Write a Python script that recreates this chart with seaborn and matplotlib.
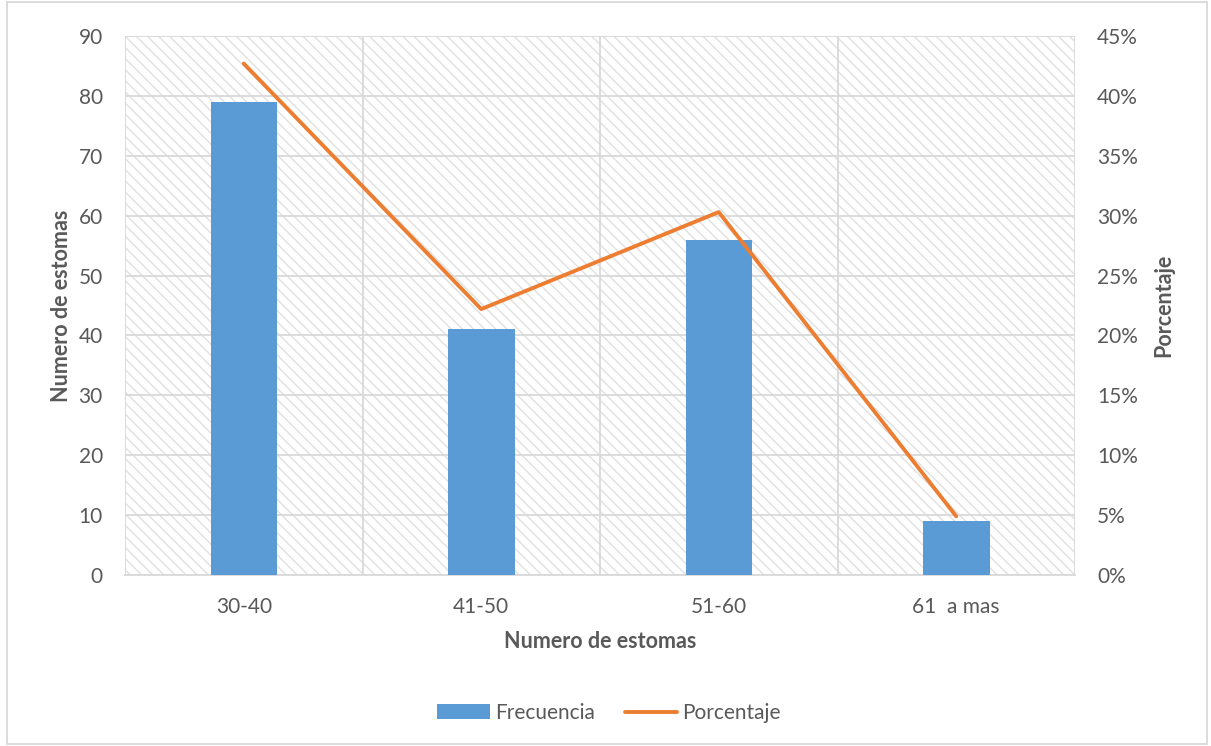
import matplotlib
matplotlib.use("Agg")
import matplotlib.pyplot as plt
import seaborn as sns
import pandas as pd
from matplotlib.patches import Rectangle, Patch
from matplotlib.lines import Line2D
from matplotlib.ticker import FuncFormatter, FixedLocator

# Data
categories = ["30-40", "41-50", "51-60", "61  a mas"]
frecuencia = [79, 41, 56, 9]
porcentaje = [42.7, 22.2, 30.3, 4.9]

sns.set_style("white")
plt.rcParams["font.family"] = ["Lato", "DejaVu Sans"]
plt.rcParams["hatch.color"] = "#e0e0e0"
plt.rcParams["hatch.linewidth"] = 1.0

txt = "#595959"
grid_c = "#d9d9d9"
fs = 15

df = pd.DataFrame({"cat": categories, "freq": frecuencia, "pct": porcentaje})

fig = plt.figure(figsize=(12.11, 7.46), dpi=100)
ax = fig.add_axes([125 / 1211, 1 - 575 / 746, 950 / 1211, 539 / 746])

# hatched plot area
ax.patch.set_facecolor("white")
ax.patch.set_edgecolor("#e0e0e0")
ax.patch.set_hatch("\\" * 3)
ax.patch.set_linewidth(0)

sns.barplot(data=df, x="cat", y="freq", color="#5B9BD5", width=0.28,
            saturation=1, linewidth=0, ax=ax, zorder=3)
ax.set_xlim(-0.5, 3.5)
ax.set_ylim(0, 90)
ax.set_yticks(range(0, 91, 10))
ax.set_axisbelow(True)
ax.yaxis.grid(True, color=grid_c, linewidth=1.3)
ax.xaxis.set_minor_locator(FixedLocator([-0.5, 0.5, 1.5, 2.5, 3.5]))
ax.xaxis.grid(True, which="minor", color=grid_c, linewidth=1.3)
ax.tick_params(axis="x", which="major", length=0, colors=txt, labelsize=fs, pad=16)
ax.tick_params(axis="x", which="minor", length=8, width=1.3, color=grid_c)
ax.tick_params(axis="y", length=0, colors=txt, labelsize=fs, pad=16)
for s in ax.spines.values():
    s.set_visible(False)
ax.spines["bottom"].set_visible(True)
ax.spines["bottom"].set_color(grid_c)
ax.spines["bottom"].set_linewidth(1.3)
ax.set_xlabel("Numero de estomas", fontsize=fs + 0.5, fontweight="bold", color=txt, labelpad=10)
ax.set_ylabel("Numero de estomas", fontsize=fs + 0.5, fontweight="bold", color=txt, labelpad=5)

ax2 = ax.twinx()
sns.lineplot(data=df, x="cat", y="pct", color="#ED7D31", linewidth=2.8, ax=ax2,
             solid_capstyle="round")
ax2.set_ylim(0, 45)
ax2.set_yticks(range(0, 46, 5))
ax2.yaxis.set_major_formatter(FuncFormatter(lambda v, p: f"{v:.0f}%"))
ax2.tick_params(axis="y", length=0, colors=txt, labelsize=fs, pad=16)
for s in ax2.spines.values():
    s.set_visible(False)
ax2.set_ylabel("Porcentaje", fontsize=fs + 0.5, fontweight="bold", color=txt, labelpad=11)
ax2.set_xlim(-0.5, 3.5)

handles = [Patch(facecolor="#5B9BD5", edgecolor="none"),
           Line2D([0], [0], color="#ED7D31", linewidth=2.8, solid_capstyle="round")]
fig.legend(handles, ["Frecuencia", "Porcentaje"], loc="center",
           bbox_to_anchor=(609 / 1211, 1 - 713 / 746), ncol=2, frameon=False,
           fontsize=fs, labelcolor=txt, handlelength=2.5, handletextpad=0.25,
           columnspacing=1.45)

fig.patches.append(Rectangle((0.006, 0.003), 0.991, 0.994, transform=fig.transFigure,
                             fill=False, edgecolor=grid_c, linewidth=1.3))

fig.savefig("out.png", dpi=100)
